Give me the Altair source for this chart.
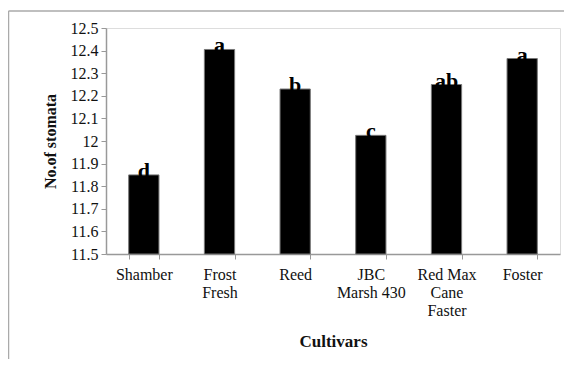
import altair as alt
import pandas as pd

cultivars = ["Shamber", "Frost|Fresh", "Reed", "JBC|Marsh 430", "Red Max|Cane|Faster", "Foster"]
stomata = [11.85, 12.405, 12.23, 12.025, 12.25, 12.365]
letters = ["d", "a", "b", "c", "ab", "a"]
y_ticks = [11.5, 11.6, 11.7, 11.8, 11.9, 12.0, 12.1, 12.2, 12.3, 12.4, 12.5]
y_min = 11.5

df = pd.DataFrame({"cultivar": cultivars, "stomata": stomata, "letter": letters})

FONT = "'Times New Roman', 'Liberation Serif', 'DejaVu Serif', serif"

x_enc = alt.X(
    "cultivar:N",
    sort=cultivars,
    scale=alt.Scale(paddingInner=0.6, paddingOuter=0.3),
    axis=alt.Axis(
        title="Cultivars",
        titleFont=FONT,
        titleFontSize=17,
        titleFontWeight="bold",
        titleColor="#111",
        titlePadding=15,
        labelExpr="split(datum.label, '|')",
        labelFont=FONT,
        labelFontSize=16,
        labelFontWeight="normal",
        labelColor="#111",
        labelAngle=0,
        labelLineHeight=18,
        labelPadding=7,
        labelBaseline="top",
        labelOverlap=False,
        tickBand="extent",
        tickSize=5,
        tickColor="#999",
        domainColor="#999",
        domainWidth=1.5,
    ),
)

y_enc = alt.Y(
    "stomata:Q",
    scale=alt.Scale(domain=[11.5, 12.5], nice=False),
    axis=alt.Axis(
        title="No.of stomata",
        titleFont=FONT,
        titleFontSize=16,
        titleFontWeight="bold",
        titleColor="#111",
        titlePadding=12,
        values=y_ticks,
        format=".1~f",
        labelFont=FONT,
        labelFontSize=16,
        labelFontWeight="normal",
        labelColor="#111",
        labelPadding=3,
        labelOverlap=False,
        labelFlush=False,
        tickSize=5,
        tickColor="#999",
        domainColor="#999",
        domainWidth=1.5,
        grid=False,
    ),
)

base = alt.Chart(df)

bars = base.mark_bar(color="black", stroke="#777", strokeWidth=1).encode(
    x=x_enc, y=y_enc, y2=alt.datum(y_min)
)

text = base.mark_text(
    font=FONT, fontSize=22, fontWeight="bold", baseline="alphabetic", dy=3, color="black"
).encode(x=x_enc, y=y_enc, text="letter:N")

frame_data = pd.DataFrame({"k": [0]})
frame_left = alt.Chart(frame_data).mark_rule(color="#aaa", strokeWidth=1.5).encode(
    x=alt.value(-97.5), y=alt.value(-17), y2=alt.value(400)
)
frame_top = alt.Chart(frame_data).mark_rule(color="#aaa", strokeWidth=1.5).encode(
    x=alt.value(-97.5), x2=alt.value(480), y=alt.value(-17)
)

chart = (
    alt.layer(bars, text, frame_left, frame_top)
    .properties(
        width=454,
        height=226,
        autosize=alt.AutoSizeParams(type="none"),
        padding={"left": 98, "top": 20, "right": 4, "bottom": 105},
    )
    .configure_view(stroke=None)
    .configure_axis(labelOverlap=False, labelFont=FONT, titleFont=FONT)
    .configure_text(font=FONT)
    .configure(background="white", font=FONT)
)

chart.save("out.html", embed_options={"renderer": "svg", "actions": False})
